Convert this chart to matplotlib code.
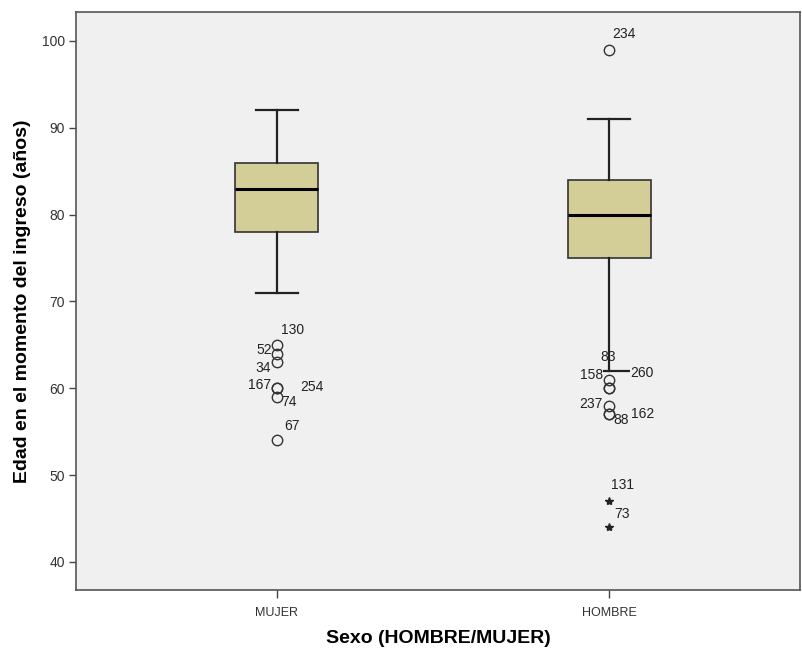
import matplotlib
matplotlib.use("Agg")
import matplotlib.pyplot as plt

plt.rcParams["font.family"] = ["Liberation Sans", "DejaVu Sans"]

# Group summaries (años)
categories = ["MUJER", "HOMBRE"]
whisker_low = [71, 62]
q1 = [78, 75]
median = [83, 80]
q3 = [86, 84]
whisker_high = [92, 91]

# Outliers (circles) with case ids
mujer_out_vals = [65, 64, 63, 60, 60, 59, 54]
mujer_out_ids = ["130", "52", "34", "167", "254", "74", "67"]
hombre_out_vals = [99, 61, 60, 60, 58, 57, 57]
hombre_out_ids = ["234", "158", "83", "260", "237", "88", "162"]

# Extreme values (stars)
hombre_ext_vals = [47, 44]
hombre_ext_ids = ["131", "73"]

# label offsets in pixels (dx, dy, ha, background)
mujer_lbl = [(4, 15, "left", True), (-5, 4, "right", True), (-6, -6, "right", True),
             (-6, 3, "right", True), (23, 1, "left", True), (4, -5, "left", True),
             (7, 14, "left", True)]
hombre_lbl = [(3, 16, "left", True), (-6, 5, "right", True), (-1, 31, "center", False),
              (21, 15, "left", True), (-6, 2, "right", True), (4, -6, "left", True),
              (22, 0, "left", True)]
ext_lbl = [(2, 16, "left", True), (5, 13, "left", True)]

BG = "#F0F0F0"
BOX = "#D3CE98"
INK = "#222222"

fig = plt.figure(figsize=(8.03, 6.5), dpi=100)
ax = fig.add_axes([76 / 803, 60 / 650, 724 / 803, 578 / 650])
ax.set_facecolor(BG)

positions = [1, 2]
stats = []
for i, name in enumerate(categories):
    stats.append(dict(label=name, whislo=whisker_low[i], q1=q1[i], med=median[i],
                      q3=q3[i], whishi=whisker_high[i], fliers=[]))

ax.bxp(stats, positions=positions, widths=0.25, capwidths=0.127, patch_artist=True,
       showfliers=False,
       boxprops=dict(facecolor=BOX, edgecolor="#333333", linewidth=1.2),
       medianprops=dict(color="black", linewidth=2.2),
       whiskerprops=dict(color=INK, linewidth=1.6),
       capprops=dict(color=INK, linewidth=1.6))


def draw_points(xpos, vals, ids, offs, marker, ms):
    if marker == "o":
        ax.plot([xpos] * len(vals), vals, linestyle="none", marker="o", ms=ms,
                mfc="none", mec="#333333", mew=1.0, zorder=4)
    else:
        ax.plot([xpos] * len(vals), vals, linestyle="none", marker="*", ms=ms,
                color="#222222", zorder=4)
    for v, t, (dx, dy, ha, bg) in zip(vals, ids, offs):
        kw = {}
        if bg:
            kw["bbox"] = dict(facecolor=BG, edgecolor="none", pad=0.0)
        ax.annotate(t, (xpos, v), xytext=(dx, dy), textcoords="offset pixels",
                    ha=ha, va="center", fontsize=10, color="#222222", zorder=3, **kw)


draw_points(positions[0], mujer_out_vals, mujer_out_ids, mujer_lbl, "o", 7.5)
draw_points(positions[1], hombre_out_vals, hombre_out_ids, hombre_lbl, "o", 7.5)
draw_points(positions[1], hombre_ext_vals, hombre_ext_ids, ext_lbl, "*", 6)

ax.set_xlim(0.395, 2.575)
ax.set_ylim(36.77, 103.34)
ax.set_yticks([40, 50, 60, 70, 80, 90, 100])
ax.set_xticks(positions)
ax.set_xticklabels(categories)

ax.tick_params(axis="y", direction="out", length=5, width=1, color="#444444",
               labelsize=10, labelcolor="#333333", pad=3)
ax.tick_params(axis="x", direction="out", length=6, width=1, color="#444444",
               labelsize=9, labelcolor="#333333", pad=6)
for s in ax.spines.values():
    s.set_color("#555555")
    s.set_linewidth(1.2)

ax.set_ylabel("Edad en el momento del ingreso (años)", fontsize=14, fontweight="bold",
              labelpad=8)
ax.set_xlabel("Sexo (HOMBRE/MUJER)", fontsize=14, fontweight="bold", labelpad=8)

fig.savefig("out.png", dpi=100, facecolor="white")
